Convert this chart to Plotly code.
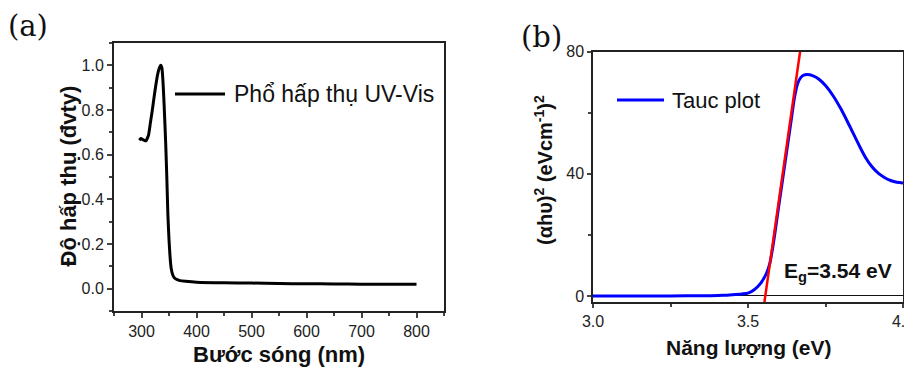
import plotly.graph_objects as go

# ---------------- data ----------------
# (a) UV-Vis absorption spectrum
wavelength_nm = [296, 299, 302, 305, 308, 310, 313, 316, 320, 323, 326, 329, 332, 335, 337,
                 339, 341, 344, 346, 348, 350, 352, 354, 357, 360, 365, 370, 380, 400,
                 450, 500, 550, 600, 650, 700, 750, 800]
absorbance = [0.665, 0.672, 0.668, 0.664, 0.662, 0.67, 0.69, 0.74, 0.805, 0.86, 0.91, 0.955, 0.985,
              1.0, 0.99, 0.93, 0.83, 0.65, 0.5, 0.33, 0.22, 0.14, 0.09, 0.06, 0.048, 0.04, 0.036,
              0.033, 0.029, 0.026, 0.025, 0.023, 0.022, 0.021, 0.02, 0.02, 0.02]

# (b) Tauc plot
energy_eV = [3.0, 3.1, 3.2, 3.3, 3.38, 3.42, 3.45, 3.48, 3.5, 3.52, 3.54, 3.56, 3.57, 3.58, 3.6,
             3.62, 3.64, 3.65, 3.66, 3.67, 3.68, 3.69, 3.71, 3.73, 3.75, 3.775, 3.8, 3.83, 3.86,
             3.88, 3.9, 3.92, 3.94, 3.96, 3.98, 4.0]
tauc = [0, 0, 0, 0.02, 0.08, 0.2, 0.4, 0.65, 0.9, 2.0, 4.0, 7.5, 10.5, 16, 30, 44, 58, 65, 69.5,
        71.5, 72.3, 72.5, 72.1, 70.9, 68.9, 65.5, 61.2, 55.2, 49.0, 45.2, 42.3, 40.2, 38.8, 37.8,
        37.2, 37.0]

# linear fit (band-gap extrapolation)
fit_x = [3.553, 3.668]
fit_y = [-2, 80]

# tick labels
ticks_a_x = [300, 400, 500, 600, 700, 800]
ticks_a_y = [0.0, 0.2, 0.4, 0.6, 0.8, 1.0]
ticks_b_x = [3.0, 3.5, 4.0]
ticks_b_y = [0, 40, 80]

# the page body has an 8px margin, so the figure is drawn 8px in from the window edge
OFF = 8
W, H = 912 - OFF, 367 - OFF


def px(x):
    return (x - OFF) / W


def py(y):
    return 1 - (y - OFF) / H


SANS = "Liberation Sans, Arial, sans-serif"

fig = go.Figure()

fig.add_trace(go.Scatter(x=wavelength_nm, y=absorbance, mode="lines", name="Phổ hấp thụ UV-Vis",
                         line=dict(color="black", width=3, shape="spline", smoothing=0.6),
                         xaxis="x", yaxis="y", showlegend=False))
fig.add_trace(go.Scatter(x=energy_eV, y=tauc, mode="lines", name="Tauc plot",
                         line=dict(color="#0000ff", width=3, shape="spline", smoothing=0.8),
                         xaxis="x2", yaxis="y2", showlegend=False))
fig.add_trace(go.Scatter(x=fit_x, y=fit_y, mode="lines", name="fit",
                         line=dict(color="#ff0000", width=2.5),
                         xaxis="x2", yaxis="y2", showlegend=False))

axis_common = dict(showgrid=False, ticks="outside", mirror=True, automargin=False,
                   showline=True, ticklabeloverflow="allow",
                   tickfont=dict(family=SANS, size=16, color="#222"))

fig.update_layout(
    template="none",
    width=W, height=H,
    margin=dict(l=0, r=0, t=0, b=0, pad=0, autoexpand=False),
    paper_bgcolor="white", plot_bgcolor="white",
    xaxis=dict(domain=[px(114), px(444)], range=[250, 850], anchor="y", zeroline=False,
               tickvals=ticks_a_x, ticklen=5, tickwidth=2, linewidth=2, linecolor="#222",
               minor=dict(dtick=50, tick0=0, ticklen=3, tickwidth=1.5, ticks="outside"),
               **axis_common),
    yaxis=dict(domain=[py(311), py(43)], range=[-0.1, 1.1], anchor="x", zeroline=False,
               tickvals=ticks_a_y, tickformat=".1f", ticklen=5, tickwidth=2, linewidth=2,
               linecolor="#222",
               minor=dict(dtick=0.1, tick0=0, ticklen=3, tickwidth=1.5, ticks="outside"),
               **axis_common),
    xaxis2=dict(domain=[px(593), px(903)], range=[3.0, 4.0], anchor="y2", zeroline=False,
                tickvals=ticks_b_x, tickformat=".1f", ticklen=4, tickwidth=1.5, linewidth=1.5,
                linecolor="#222",
                minor=dict(dtick=0.25, tick0=3.0, ticklen=3, tickwidth=1.5, ticks="outside"),
                **axis_common),
    yaxis2=dict(domain=[py(302), py(51.7)], range=[-2, 80], anchor="x2",
                tickvals=ticks_b_y, ticklen=4, tickwidth=1.5, linewidth=1.5, linecolor="#222",
                minor=dict(dtick=20, tick0=0, ticklen=3, tickwidth=1.5, ticks="outside"),
                zeroline=True, zerolinecolor="#111", zerolinewidth=1.2,
                **axis_common),
)

ann = []
# panel labels
ann.append(dict(text="(a)", x=px(28), y=py(26), font=dict(family="DejaVu Serif", size=29, color="#111")))
ann.append(dict(text="(b)", x=px(541), y=py(37), font=dict(family="DejaVu Serif", size=29, color="#111")))
# axis titles
ann.append(dict(text="<b>Bước sóng (nm)</b>", x=px(279), y=py(354),
                font=dict(family=SANS, size=22, color="#111")))
ann.append(dict(text="<b>Độ hấp thụ (đvty)</b>", x=px(68), y=py(176.5), textangle=-90,
                font=dict(family=SANS, size=22, color="#111")))
ann.append(dict(text="<b>Năng lượng (eV)</b>", x=px(748), y=py(347),
                font=dict(family=SANS, size=21, color="#111")))
ann.append(dict(text="<b>(αhυ)<sup>2</sup> (eVcm<sup>-1</sup>)<sup>2</sup></b>", x=px(543), y=py(170),
                textangle=-90, font=dict(family=SANS, size=20, color="#111")))
# legends text
ann.append(dict(text="Phổ hấp thụ UV-Vis", x=px(232), y=py(94), xanchor="left",
                font=dict(family=SANS, size=23, color="#111")))
ann.append(dict(text="Tauc plot", x=px(670), y=py(100), xanchor="left",
                font=dict(family=SANS, size=22, color="#111")))
# band gap label
ann.append(dict(text="<b>E<sub>g</sub>=3.54 eV</b>", x=px(782), y=py(272), xanchor="left",
                font=dict(family=SANS, size=21, color="#111")))

for a in ann:
    a.setdefault("xanchor", "center")
    a.setdefault("yanchor", "middle")
    a.update(xref="paper", yref="paper", showarrow=False)
fig.update_layout(annotations=ann)

# legend sample lines
fig.add_shape(type="line", xref="paper", yref="paper", x0=px(175), x1=px(225), y0=py(94), y1=py(94),
              line=dict(color="black", width=3))
fig.add_shape(type="line", xref="paper", yref="paper", x0=px(617), x1=px(664), y0=py(100), y1=py(100),
              line=dict(color="#0000ff", width=3))

fig.write_html("out.html")
